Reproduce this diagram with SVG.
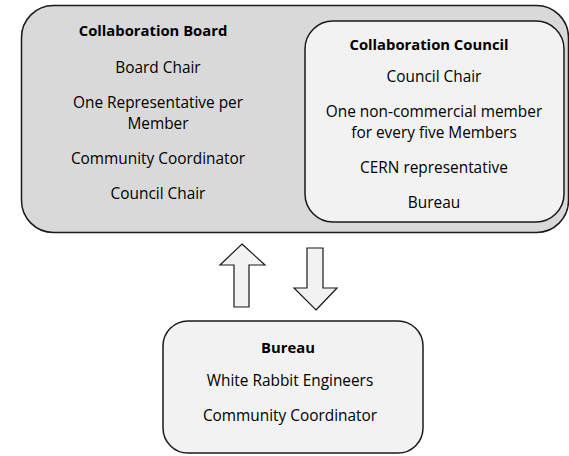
<svg xmlns="http://www.w3.org/2000/svg" width="569" height="456" viewBox="0 0 569 456">
<style>
text{font-family:"Open Sans","Liberation Sans",sans-serif;font-size:15.4px;fill:#000;text-anchor:middle}
.b{font-weight:bold;font-size:14.8px}
.box{stroke:#1a1a1a;stroke-width:1.5}
</style>
<rect width="569" height="456" fill="#fff"/>
<g id="board">
<rect class="box" x="21.5" y="5.5" width="547" height="227" rx="32" fill="#d9d9d9"/>
<text class="b" x="153" y="36">Collaboration Board</text>
<text x="158" y="73">Board Chair</text>
<text x="158" y="108">One Representative per</text>
<text x="158" y="129">Member</text>
<text x="158" y="164">Community Coordinator</text>
<text x="158" y="199">Council Chair</text>
</g>
<g id="council">
<rect class="box" x="305" y="21" width="259" height="201" rx="28" fill="#f2f2f2"/>
<text class="b" x="429" y="50">Collaboration Council</text>
<text x="434" y="82">Council Chair</text>
<text x="434" y="117">One non-commercial member</text>
<text x="434" y="138">for every five Members</text>
<text x="434" y="173">CERN representative</text>
<text x="434" y="208">Bureau</text>
</g>
<g id="bureau">
<rect class="box" x="163" y="321" width="260" height="132" rx="25" fill="#f2f2f2"/>
<text class="b" x="288" y="353">Bureau</text>
<text x="290" y="386">White Rabbit Engineers</text>
<text x="290" y="421">Community Coordinator</text>
</g>
<g id="connectors" fill="#f2f2f2" stroke="#1a1a1a" stroke-width="1.2">
<polygon points="242,244 265,265 249,265 249,307 234,307 234,265 220,265"/>
<polygon points="316,310 337,288 323,288 323,248 307,248 307,288 294,288"/>
</g>
</svg>
